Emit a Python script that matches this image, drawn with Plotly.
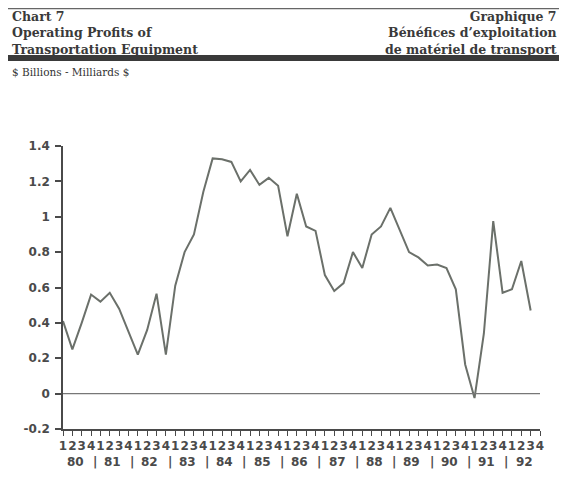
import plotly.graph_objects as go

# quarterly operating profits, $ billions, 1980Q1 .. 1992Q3
profits = [0.41, 0.25, 0.40, 0.56, 0.52, 0.57, 0.48, 0.35, 0.22, 0.36,
           0.565, 0.22, 0.61, 0.80, 0.90, 1.14, 1.33, 1.325, 1.31, 1.20,
           1.265, 1.18, 1.22, 1.175, 0.89, 1.13, 0.945, 0.92, 0.67, 0.58,
           0.625, 0.80, 0.71, 0.90, 0.945, 1.05, 0.93, 0.80, 0.77, 0.725,
           0.73, 0.71, 0.59, 0.165, -0.025, 0.34, 0.975, 0.57, 0.59, 0.75,
           0.47]
years = ["80", "81", "82", "83", "84", "85", "86", "87", "88", "89", "90", "91", "92"]
quarter_labels = ["1", "2", "3", "4"]
y_ticks = [-0.2, 0, 0.2, 0.4, 0.6, 0.8, 1, 1.2, 1.4]
y_ticktext = ["-0.2", "0", "0.2", "0.4", "0.6", "0.8", "1", "1.2", "1.4"]

OFF = 8  # page body margin, the figure sits at (8, 8) in the window
W, H = 567 - OFF, 501 - OFF
L, R, T, B = 63 - OFF, 27, 146 - OFF, 72
PW, PH = W - L - R, H - T - B


def px(x):  # window pixel -> paper x
    return (x - OFF - L) / PW


def py(y):  # window pixel -> paper y
    return (H - B - (y - OFF)) / PH


n_q = len(years) * 4
x_idx = list(range(len(profits)))
tick_idx = list(range(n_q))
tick_txt = [quarter_labels[i % 4] for i in tick_idx]

ink = "#4a4a4a"
fig = go.Figure()
fig.add_trace(go.Scatter(x=x_idx, y=profits, mode="lines",
                         line=dict(color="#6b706a", width=2), showlegend=False,
                         hoverinfo="skip"))

fig.update_layout(
    width=W, height=H,
    margin=dict(l=L, r=R, t=T, b=B),
    paper_bgcolor="white", plot_bgcolor="white",
    xaxis=dict(range=[0, n_q - 1], tickvals=tick_idx, ticktext=tick_txt,
               ticks="outside", ticklen=5, tickcolor=ink, tickwidth=1,
               showline=True, linecolor=ink, linewidth=1.5, showgrid=False,
               zeroline=False, tickangle=0,
               tickfont=dict(family="DejaVu Sans", size=12, color=ink, weight="bold")),
    yaxis=dict(range=[-0.2, 1.4], tickvals=y_ticks, ticktext=y_ticktext,
               ticks="outside", ticklen=6, tickcolor=ink, tickwidth=1.5,
               showline=True, linecolor=ink, linewidth=1.5, showgrid=False,
               zeroline=False, ticklabelstandoff=3,
               tickfont=dict(family="DejaVu Sans", size=12, color=ink, weight="bold")),
)

# zero line
fig.add_shape(type="line", xref="x", yref="y", x0=0, x1=n_q - 1, y0=0, y1=0,
              line=dict(color="#777777", width=1.2))

# header rules
fig.add_shape(type="line", xref="paper", yref="paper", x0=px(OFF), x1=px(567),
              y0=py(8.7), y1=py(8.7), line=dict(color="#666666", width=1.2))
fig.add_shape(type="rect", xref="paper", yref="paper", x0=px(OFF), x1=px(567),
              y0=py(61), y1=py(55), fillcolor="#3a3a3a", line=dict(width=0))

title_font = dict(family="DejaVu Serif", size=12.5, color="#3a3a3a", weight="bold")
left_title = "Chart 7<br>Operating Profits of<br>Transportation Equipment"
right_title = "Graphique 7<br>Bénéfices d’exploitation<br>de matériel de transport"
fig.add_annotation(text=left_title, xref="paper", yref="paper", x=px(10), y=py(33),
                   xanchor="left", yanchor="middle", align="left", showarrow=False,
                   font=title_font)
fig.add_annotation(text=right_title, xref="paper", yref="paper", x=px(559), y=py(33),
                   xanchor="right", yanchor="middle", align="right", showarrow=False,
                   font=title_font)

# dollar signs as entities so plotly does not treat the text as LaTeX
fig.add_annotation(text="&#36; Billions - Milliards &#36;", xref="paper", yref="paper",
                   x=px(10), y=py(72), xanchor="left", yanchor="middle", showarrow=False,
                   font=dict(family="DejaVu Serif", size=10.5, color="#333333"))

# year labels below the quarter digits
year_font = dict(family="DejaVu Sans", size=12, color=ink, weight="bold")
for k, yr in enumerate(years):
    fig.add_annotation(text=yr, xref="x", yref="paper", x=4 * k + 1.3, y=py(462),
                       xanchor="center", yanchor="middle", showarrow=False, font=year_font)
    if k < len(years) - 1:
        fig.add_annotation(text="|", xref="x", yref="paper", x=4 * k + 3.4, y=py(462),
                           xanchor="center", yanchor="middle", showarrow=False, font=year_font)

fig.write_html("out.html")
